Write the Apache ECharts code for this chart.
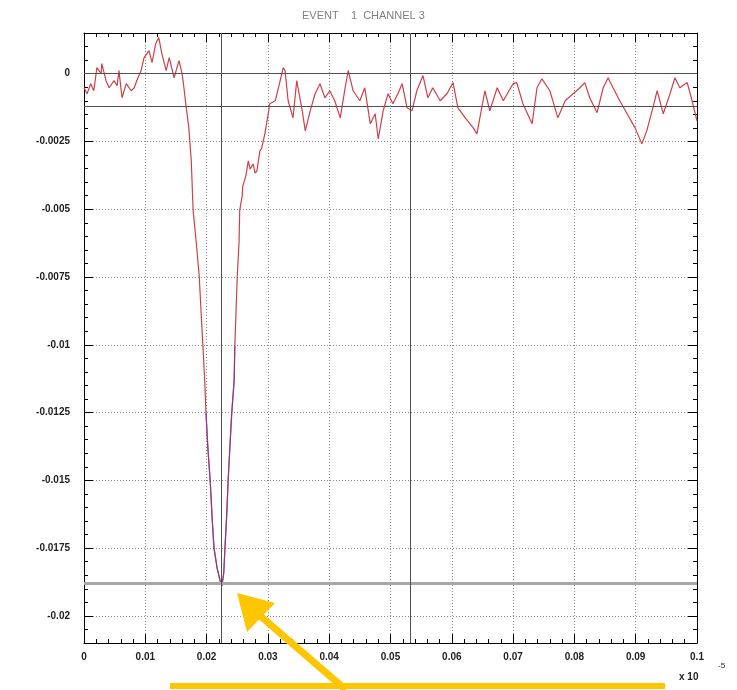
<!DOCTYPE html>
<html><head><meta charset="utf-8">
<script src="https://cdn.jsdelivr.net/npm/echarts@6/dist/echarts.min.js"></script>
<style>html,body{margin:0;padding:0;background:#fff}#c{width:737px;height:690px}</style>
</head><body><div id="c"></div>
<script>
const titleText = 'EVENT    1  CHANNEL 3';
const xMin = 0, xMax = 0.1, xStep = 0.01;
const yMin = -0.021, yMax = 0.0015, yMinorStep = 0.0005;
const yTicks = [0, -0.0025, -0.005, -0.0075, -0.01, -0.0125, -0.015, -0.0175, -0.02];
const xExponent = '-5';

const time = [
  0,0.0005,0.0011,0.0016,0.0021,0.0028,0.0029,0.0036,0.0041,0.0049,
  0.0054,0.0057,0.0062,0.0069,0.0077,0.0082,0.0086,0.0093,0.0098,0.0106,
  0.0111,0.0117,0.0122,0.0127,0.0134,0.0139,0.0147,0.0155,0.0160,0.0163,
  0.0166,0.0171,0.0175,0.0178,0.0183,0.0188,0.0191,0.0194,0.0197,0.0199,
  0.0202,0.0206,0.0209,0.0212,0.0217,0.0222,0.0225,0.0228,0.0230,0.0233,
  0.0235,0.0238,0.0241,0.0245,0.0246,0.0248,0.0250,0.0253,0.0254,0.0258,
  0.0259,0.0264,0.0268,0.0271,0.0276,0.0279,0.0282,0.0287,0.0290,0.0295,
  0.0300,0.0303,0.0312,0.0320,0.0325,0.0328,0.0333,0.0341,0.0347,0.0356,
  0.0361,0.0369,0.0377,0.0385,0.0393,0.0401,0.0409,0.0418,0.0426,0.0431,
  0.0439,0.0450,0.0458,0.0467,0.0475,0.0480,0.0488,0.0496,0.0504,0.0512,
  0.0519,0.0527,0.0535,0.0543,0.0553,0.0561,0.0569,0.0581,0.0592,0.0602,
  0.0610,0.0622,0.0635,0.0641,0.0654,0.0662,0.0674,0.0684,0.0700,0.0706,
  0.0716,0.0731,0.0739,0.0747,0.0760,0.0773,0.0785,0.0798,0.0809,0.0817,
  0.0825,0.0837,0.0847,0.0855,0.0863,0.0874,0.0886,0.0899,0.0910,0.0918,
  0.0928,0.0935,0.0945,0.0956,0.0964,0.0972,0.0984,0.0992,0.1000
];
const signal = [
  -0.00052,-0.00074,-0.00037,-0.00063,0.00022,0.0,0.00037,-0.00026,-0.00052,-0.00026,
  -0.00044,0.00011,-0.00089,-0.00037,-0.00063,-0.00052,-0.00026,0.00011,0.00059,0.00085,
  0.00041,0.00111,0.00133,0.00074,0.00011,0.00059,-0.00015,0.00048,0.0,-0.00052,
  -0.00111,-0.0020,-0.00322,-0.00504,-0.00619,-0.00748,-0.00878,-0.01004,-0.01137,-0.01252,
  -0.01378,-0.01507,-0.01637,-0.01748,-0.01822,-0.0187,-0.01889,-0.01841,-0.01748,-0.01619,
  -0.01507,-0.01378,-0.01252,-0.0113,-0.01004,-0.00878,-0.00748,-0.00619,-0.00504,-0.00452,
  -0.00415,-0.00378,-0.00322,-0.00352,-0.00333,-0.00367,-0.00359,-0.00285,-0.00274,-0.00222,
  -0.00156,-0.00111,-0.0010,-0.00026,0.00022,0.00011,-0.0010,-0.00163,-0.00026,-0.00137,
  -0.00211,-0.00137,-0.00074,-0.00037,-0.00089,-0.00063,-0.0010,-0.00163,-0.00052,0.00011,
  -0.00063,-0.0010,-0.00052,-0.00185,-0.00148,-0.00241,-0.00137,-0.00074,-0.00111,-0.00074,
  -0.00037,-0.00126,-0.00137,-0.00063,-0.00007,-0.00089,-0.00052,-0.0010,-0.00074,-0.00033,
  -0.00126,-0.00163,-0.0020,-0.00222,-0.00063,-0.00137,-0.00052,-0.0010,-0.00037,-0.00033,
  -0.00111,-0.00185,-0.00052,-0.00019,-0.00063,-0.00163,-0.0010,-0.00074,-0.00052,-0.00033,
  -0.00089,-0.00144,-0.00052,-0.00015,-0.00052,-0.0010,-0.00148,-0.0020,-0.00259,-0.00211,
  -0.00126,-0.00063,-0.00148,-0.00074,-0.00015,-0.00052,-0.00033,-0.0010,-0.00174
];
const fitTime = [0.0199,0.0202,0.0206,0.0209,0.0212,0.0217,0.0222,0.0225,0.0228,0.0230,0.0233,0.0235,0.0238,0.0241,0.0245,0.0246];
const fitSignal = [-0.01252,-0.01378,-0.01507,-0.01637,-0.01748,-0.01822,-0.0187,-0.01889,-0.01841,-0.01748,-0.01619,-0.01507,-0.01378,-0.01252,-0.0113,-0.01004];
const baselineLevels = [0, -0.00119];
const peakLevel = -0.01881;
const markerTimes = [0.02235, 0.0532];

const zip = (a, b) => a.map((v, i) => [v, b[i]]);
const font = 'Liberation Sans';

const xCommon = {
  type: 'value', min: xMin, max: xMax, interval: xStep,
  axisLine: { show: true, onZero: false, lineStyle: { color: '#000', width: 1 } },
  axisTick: { show: true, inside: true, length: 9, lineStyle: { color: '#000' } },
  minorTick: { show: true, splitNumber: 5, length: 4, lineStyle: { color: '#000' } }
};
const yMajor = {
  type: 'value', min: yMin, max: yMax,
  axisLine: { show: true, onZero: false, lineStyle: { color: '#000', width: 1 } },
  axisTick: { show: true, inside: true, length: 9, customValues: yTicks, lineStyle: { color: '#000' } }
};
const yMinor = {
  type: 'value', min: yMin, max: yMax, interval: yMinorStep,
  axisLine: { show: false, onZero: false },
  axisTick: { show: true, inside: true, length: 4, lineStyle: { color: '#000' } },
  axisLabel: { show: false }, splitLine: { show: false }
};

const chart = echarts.init(document.getElementById('c'), null, { renderer: 'canvas' });
chart.setOption({
  animation: false,
  backgroundColor: '#fff',
  grid: { left: 84, top: 33, right: 40, bottom: 47 },
  xAxis: [
    Object.assign({}, xCommon, {
      position: 'bottom',
      axisLabel: { color: '#222', fontSize: 10, fontWeight: 'bold', fontFamily: font, margin: 9 },
      splitLine: { show: true, lineStyle: { color: '#8a8a8a', type: [1, 2], width: 1 } }
    }),
    Object.assign({}, xCommon, {
      position: 'top',
      axisLabel: { show: false }, splitLine: { show: false }
    })
  ],
  yAxis: [
    Object.assign({}, yMajor, {
      position: 'left',
      axisLabel: { customValues: yTicks, color: '#222', fontSize: 10, fontWeight: 'bold', fontFamily: font, margin: 14 },
      splitLine: { show: true, lineStyle: { color: '#8a8a8a', type: [1, 2], width: 1 } }
    }),
    Object.assign({}, yMinor, { position: 'left' }),
    Object.assign({}, yMajor, { position: 'right', axisLabel: { show: false }, splitLine: { show: false } }),
    Object.assign({}, yMinor, { position: 'right' })
  ],
  series: [
    {
      type: 'line', xAxisIndex: 0, yAxisIndex: 0, data: [], silent: true,
      markLine: {
        silent: true, symbol: 'none', label: { show: false }, precision: 8,
        data: [
          { yAxis: peakLevel, lineStyle: { color: '#a8a8a8', width: 3, type: 'solid' } },
          ...baselineLevels.map(v => ({ yAxis: v, lineStyle: { color: '#505050', width: 1, type: 'solid' } })),
          ...markerTimes.map(v => ({ xAxis: v, lineStyle: { color: '#505050', width: 1, type: 'solid' } }))
        ]
      }
    },
    {
      type: 'line', xAxisIndex: 0, yAxisIndex: 0, showSymbol: false, silent: true,
      data: zip(time, signal),
      lineStyle: { color: '#cc4048', width: 1.2 }
    },
    {
      type: 'line', xAxisIndex: 0, yAxisIndex: 0, showSymbol: false, silent: true,
      data: zip(fitTime, fitSignal),
      lineStyle: { color: '#7a3a9a', width: 1.2, opacity: 0.85 }
    }
  ],
  graphic: [
    { type: 'text', left: 392 - 90, top: 10, style: { text: titleText, fill: '#808080', font: '11px ' + font, width: 180, align: 'center' } },
    { type: 'text', x: 679, y: 672, style: { text: 'x 10', fill: '#222', font: 'bold 10px ' + font } },
    { type: 'text', x: 718, y: 662, style: { text: xExponent, fill: '#222', font: '8px ' + font } },
    { type: 'rect', shape: { x: 170, y: 683, width: 495, height: 6 }, style: { fill: '#fec601' }, z: 100 },
    { type: 'line', shape: { x1: 258, y1: 614, x2: 346, y2: 690 }, style: { stroke: '#fec601', lineWidth: 7 }, z: 100 },
    { type: 'polygon', shape: { points: [[237, 593], [247, 632], [275, 603]] }, style: { fill: '#fec601' }, z: 100 }
  ]
});
</script></body></html>
